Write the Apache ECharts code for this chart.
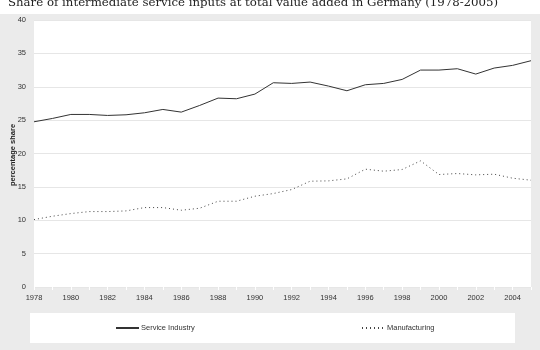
<!DOCTYPE html>
<html><head><meta charset="utf-8">
<script src="https://cdn.jsdelivr.net/npm/echarts@6/dist/echarts.min.js"></script>
<style>html,body{margin:0;padding:0;background:#fff}#c{width:540px;height:350px}</style>
</head><body><div id="c"></div>
<script>
const years = ['1978','1979','1980','1981','1982','1983','1984','1985','1986','1987','1988','1989','1990','1991','1992','1993','1994','1995','1996','1997','1998','1999','2000','2001','2002','2003','2004','2005'];
const serviceIndustry = [24.75,25.25,25.85,25.85,25.7,25.8,26.1,26.6,26.2,27.2,28.3,28.2,28.9,30.6,30.5,30.7,30.1,29.4,30.3,30.5,31.1,32.5,32.5,32.7,31.9,32.8,33.2,33.9];
const manufacturing = [10.1,10.6,11.0,11.3,11.3,11.4,11.9,11.9,11.5,11.8,12.85,12.85,13.6,14.0,14.6,15.85,15.9,16.2,17.65,17.35,17.6,18.9,16.85,17.0,16.8,16.9,16.3,16.0];
const titleText = 'Share of intermediate service inputs at total value added in Germany (1978-2005)';
const yName = 'percentage share';

const chart = echarts.init(document.getElementById('c'), null, {renderer:'canvas'});
chart.setOption({
  animation: false,
  backgroundColor: '#ffffff',
  graphic: [
    {type:'rect', z:-10, zlevel:0, silent:true, shape:{x:0,y:14,width:540,height:336}, style:{fill:'#ebebeb'}},
    {type:'rect', z:-9, zlevel:0, silent:true, shape:{x:30,y:313,width:485,height:30}, style:{fill:'#ffffff'}},
    {type:'text', z:10, x:12.5, y:155, rotation:Math.PI/2, silent:true,
     style:{text:yName, textAlign:'center', textVerticalAlign:'middle', fontFamily:'Liberation Sans', fontSize:7.5, fontWeight:'bold', fill:'#222'}}
  ],
  title: {
    text: titleText, left: 3, top: -8,
    textStyle: {fontFamily:'DejaVu Serif', fontSize:11.75, fontWeight:'normal', color:'#222'}
  },
  legend: [
    {data:['Service Industry'], left:115, top:324, itemWidth:23, itemHeight:4, itemGap:0, padding:0,
     itemStyle:{opacity:0},
     textStyle:{fontFamily:'Liberation Sans', fontSize:7.5, color:'#333', padding:[0,0,0,-3]}},
    {data:['Manufacturing'], left:361, top:324, itemWidth:23, itemHeight:4, itemGap:0, padding:0,
     itemStyle:{opacity:0},
     textStyle:{fontFamily:'Liberation Sans', fontSize:7.5, color:'#333', padding:[0,0,0,-3]}}
  ],
  grid: {left:34, right:9, top:20, bottom:63, show:true, backgroundColor:'#ffffff', borderWidth:0, containLabel:false, outerBoundsMode:'none'},
  xAxis: {
    type:'category', data: years, boundaryGap:false,
    axisLine:{show:false},
    axisTick:{show:true, interval:0, length:3, lineStyle:{color:'#ffffff'}},
    axisLabel:{interval:function(i){return i%2===0 && i<27;}, fontFamily:'Liberation Sans', fontSize:7.5, color:'#333', margin:7, hideOverlap:false},
    splitLine:{show:false}
  },
  yAxis: {
    type:'value', min:0, max:40, interval:5,
    axisLine:{show:false}, axisTick:{show:false},
    axisLabel:{fontFamily:'Liberation Sans', fontSize:7.5, color:'#333', margin:8},
    splitLine:{lineStyle:{color:'#e6e6e6', width:1}}
  },
  series: [
    {name:'Service Industry', type:'line', data: serviceIndustry, symbol:'none',
     lineStyle:{color:'#333333', width:1}, itemStyle:{color:'#333333'}},
    {name:'Manufacturing', type:'line', data: manufacturing, symbol:'none',
     lineStyle:{color:'#444444', width:1, type:[1,3]}, itemStyle:{color:'#444444'}}
  ]
});
</script></body></html>
